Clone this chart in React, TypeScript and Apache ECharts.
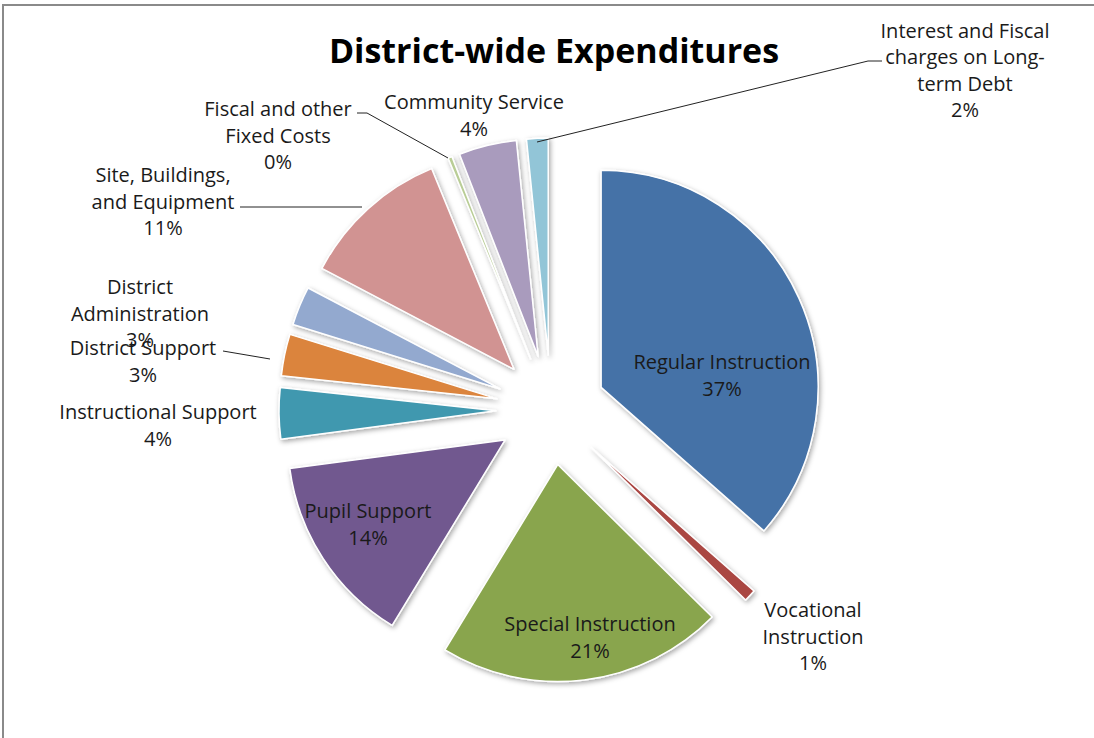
import React, { useEffect, useRef } from "react";
import * as echarts from "echarts";

const categories = [
  "Regular Instruction",
  "Vocational Instruction",
  "Special Instruction",
  "Pupil Support",
  "Instructional Support",
  "District Support",
  "District Administration",
  "Site, Buildings, and Equipment",
  "Fiscal and other Fixed Costs",
  "Community Service",
  "Interest and Fiscal charges on Long-term Debt",
];

// share of expenditures (percent)
const shares = [36.5, 0.9, 21.3, 14.2, 3.8, 3.1, 2.9, 11.1, 0.3, 4.3, 1.6];

// wrapped display labels
const wrappedNames = [
  "Regular Instruction",
  "Vocational\nInstruction",
  "Special Instruction",
  "Pupil Support",
  "Instructional Support",
  "District Support",
  "District\nAdministration",
  "Site, Buildings,\nand Equipment",
  "Fiscal and other\nFixed Costs",
  "Community Service",
  "Interest and Fiscal\ncharges on Long-\nterm Debt",
];

const colors = [
  "#4572A7",
  "#AA4643",
  "#89A54E",
  "#71588F",
  "#4198AF",
  "#DB843D",
  "#93A9CF",
  "#D19392",
  "#B9CD96",
  "#A99BBD",
  "#92C5D7",
];

// label block centres (layout only)
const labelPos: number[][] = [
  [722, 375],
  [813, 636],
  [590, 637],
  [368, 524],
  [158, 425],
  [143, 361],
  [140, 313],
  [163, 201],
  [278, 135],
  [474, 115],
  [965, 70],
];

// leader lines (layout only)
const leaders: (number[][] | null)[] = [
  null,
  null,
  null,
  null,
  null,
  [[270, 359], [223, 351]],
  null,
  [[362, 207], [240, 207]],
  [[448, 158], [367, 113], [357, 113]],
  null,
  [[537, 142], [868, 61], [882, 61]],
];

export default function App() {
  const ref = useRef<HTMLDivElement>(null);
  useEffect(() => {
    if (!ref.current) return;
    const chart = echarts.init(ref.current, undefined, { renderer: "svg" });
    const font = "'Open Sans', Lato, sans-serif";
    const total = shares.reduce((a, b) => a + b, 0);
    const data = categories.map((name, i) => ({
      name,
      value: shares[i],
      selected: true,
      itemStyle: { color: colors[i] },
    }));

    const labelGraphics: any[] = [];
    categories.forEach((_, i) => {
      const pct = Math.round((shares[i] / total) * 100);
      const line = leaders[i];
      if (line) {
        labelGraphics.push({
          type: "polyline",
          silent: true,
          z: 10,
          shape: { points: line },
          style: { stroke: "#222", lineWidth: 1, fill: null },
        });
      }
      labelGraphics.push({
        type: "text",
        silent: true,
        z: 20,
        x: labelPos[i][0],
        y: labelPos[i][1],
        style: {
          text: `${wrappedNames[i]}\n${pct}%`,
          fontFamily: font,
          fontSize: 20,
          lineHeight: 26.5,
          fill: "#1a1a1a",
          align: "center",
          verticalAlign: "middle",
        },
      });
    });

    chart.setOption({
      animation: false,
      title: {
        text: "District-wide Expenditures",
        left: 549,
        textAlign: "center",
        top: 28,
        textStyle: {
          fontFamily: font,
          fontSize: 34,
          fontWeight: "bold",
          color: "#000",
        },
      },
      graphic: [
        {
          type: "rect",
          shape: { x: 3, y: 5, width: 1300, height: 1000 },
          style: { fill: "none", stroke: "#8a8a8a", lineWidth: 2 },
          silent: true,
        },
        ...labelGraphics,
      ],
      series: [
        {
          type: "pie",
          center: [551, 410],
          radius: 217,
          startAngle: 90,
          clockwise: true,
          selectedMode: "multiple",
          selectedOffset: 55,
          avoidLabelOverlap: false,
          emphasis: { disabled: true },
          itemStyle: {
            borderColor: "#fff",
            borderWidth: 1.5,
            shadowBlur: 5,
            shadowColor: "rgba(0,0,0,0.35)",
            shadowOffsetX: 1.5,
            shadowOffsetY: 2,
          },
          label: { show: false },
          labelLine: { show: false },
          data,
        },
      ],
    });
    return () => chart.dispose();
  }, []);
  return (
    <div
      ref={ref}
      style={{
        position: "fixed",
        left: 0,
        top: 0,
        width: 1094,
        height: 738,
        background: "#fff",
      }}
    />
  );
}
